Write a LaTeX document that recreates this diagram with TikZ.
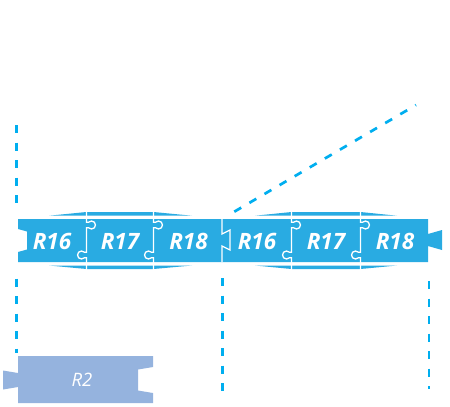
\documentclass[tikz,border=0pt]{standalone}
\usepackage{fontspec}
\newfontfamily\labelfont{Open Sans}
\usepackage{xcolor}
\usepackage{tikz}
\usetikzlibrary{positioning}

\definecolor{puzzleblue}{RGB}{41,171,226}
\definecolor{pieceblue}{RGB}{149,179,222}
\definecolor{guideblue}{RGB}{0,174,239}

\begin{document}
\begin{tikzpicture}
  [
    x=1pt, y=-1pt,
    lbl/.style={
       text=white,
       inner sep=0pt,
       font=\labelfont\bfseries\itshape\fontsize{22.5}{23}\selectfont
    },
    lbltwo/.style={
       text=white,
       inner sep=0pt,
       font=\labelfont\itshape\fontsize{18.5}{19}\selectfont
    },
    guide/.style={
       draw=guideblue,
       line width=2.7pt,
       dash pattern=on 8pt off 9.5pt
    },
    seam/.style={
       draw=white,
       line width=1.3pt
    }
  ]
  \useasboundingbox (0,0) rectangle (450,407);

  % first strip
  \fill [puzzleblue] (18,219) -- (222,219) -- (222,262) -- (18,262)
        -- (18,252) -- (27,249.5) -- (27,231.5) -- (18,229) -- cycle;
  \fill [puzzleblue] (49,215.7) -- (86.5,212) -- (153.5,212) -- (192,215.7) -- cycle;
  \fill [puzzleblue] (49,265.5) -- (86.5,269) -- (153.5,269) -- (192,265.5) -- cycle;

  % second strip
  \fill [puzzleblue] (222,219) -- (428,219) -- (428,234) -- (442,230) -- (442,250)
        -- (428,246) -- (428,262) -- (222,262) -- cycle;
  \fill [puzzleblue] (255,215.7) -- (291.5,212) -- (360.5,212) -- (397,215.7) -- cycle;
  \fill [puzzleblue] (255,265.5) -- (291.5,269) -- (360.5,269) -- (397,265.5) -- cycle;

  % seams between the pieces
  \foreach \j in {86.5, 153.5, 291.5, 360.5} {
    \draw [seam] (\j,210) -- (\j,222.17) -- ++(2.17,0)
          arc [start angle=225, end angle=495, radius=4] -- (\j,227.83)
          -- (\j,252.17) -- ++(-2.17,0)
          arc [start angle=-45, end angle=-315, radius=4] -- (\j,257.83)
          -- (\j,271);
  }
  \draw [seam] (222,219) -- (222,234) -- (230,230) -- (230,250) -- (222,246) -- (222,262);

  % R2 piece
  \fill [pieceblue] (18,356) -- (153,356) -- (153,367) -- (138,369.5) -- (138,390.5)
        -- (153,393) -- (153,403) -- (18,403) -- (18,387) -- (3,389.5)
        -- (3,370.5) -- (18,373) -- cycle;

  \node (a16) at ( 52.0,241.5) [lbl] {R16};
  \node (a17) at (120.0,241.5) [lbl] {R17};
  \node (a18) at (188.5,241.5) [lbl] {R18};
  \node (b16) at (257.0,241.5) [lbl] {R16};
  \node (b17) at (326.0,241.5) [lbl] {R17};
  \node (b18) at (395.0,241.5) [lbl] {R18};
  \node (r2)  at ( 82.0,380.0) [lbltwo] {R2};

  % guides
  \coordinate (leftTop)    at ( 16.7,125);
  \coordinate (leftUp)     at ( 16.7,203);
  \coordinate (leftDown)   at ( 16.7,278.5);
  \coordinate (leftBottom) at ( 16.7,353);
  \coordinate (midTop)     at (222.7,278);
  \coordinate (midBottom)  at (222.7,392);
  \coordinate (rightTop)   at (429.0,281);
  \coordinate (rightBottom)at (429.0,389);
  \coordinate (diagStart)  at (234.3,211.7);
  \coordinate (diagEnd)    at (416.0,105);

  \draw [guide] (leftTop)   -- (leftUp);
  \draw [guide] (leftDown)  -- (leftBottom);
  \draw [guide] (midTop)    -- (midBottom);
  \draw [guide] (rightTop)  -- (rightBottom);
  \draw [guide] (diagStart) -- (diagEnd);
\end{tikzpicture}
\end{document}
